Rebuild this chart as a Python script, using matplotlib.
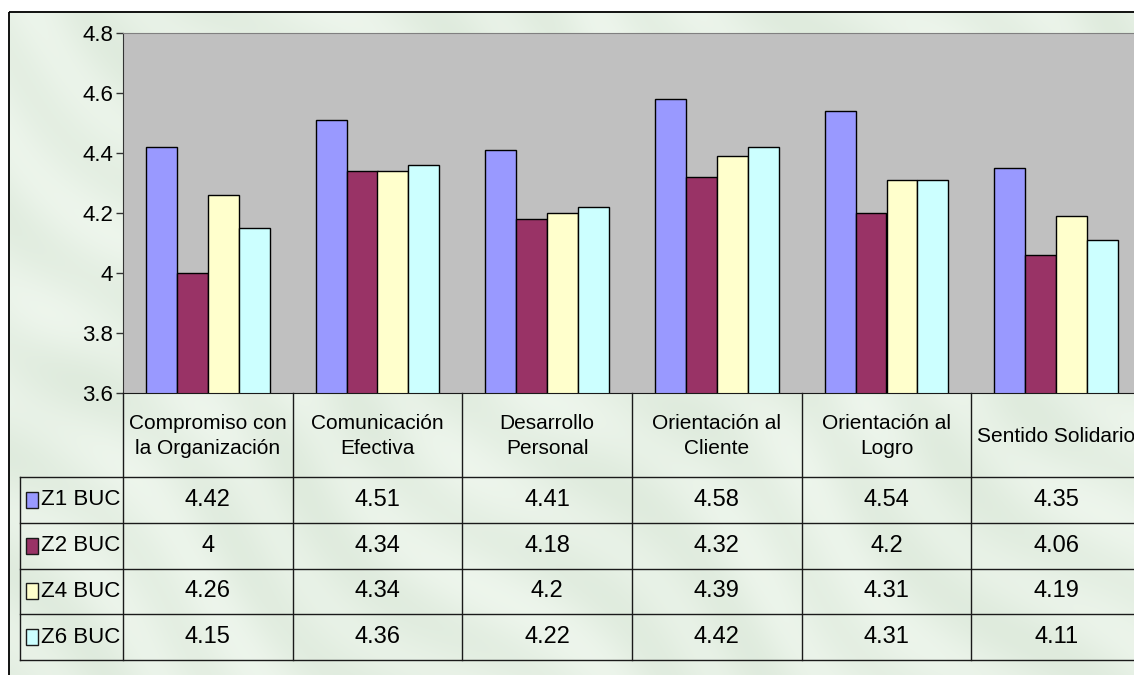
import numpy as np
import matplotlib
matplotlib.use("Agg")
import matplotlib.pyplot as plt
from matplotlib.patches import Rectangle

plt.rcParams['font.family'] = ['Liberation Sans', 'DejaVu Sans']

# Datos del gráfico
categorias = ["Compromiso con\nla Organización", "Comunicación\nEfectiva", "Desarrollo\nPersonal",
              "Orientación al\nCliente", "Orientación al\nLogro", "Sentido Solidario"]
series = ["Z1 BUC", "Z2 BUC", "Z4 BUC", "Z6 BUC"]
z1 = [4.42, 4.51, 4.41, 4.58, 4.54, 4.35]
z2 = [4, 4.34, 4.18, 4.32, 4.2, 4.06]
z4 = [4.26, 4.34, 4.2, 4.39, 4.31, 4.19]
z6 = [4.15, 4.36, 4.22, 4.42, 4.31, 4.11]
valores = [z1, z2, z4, z6]
colores = ["#9999FF", "#993366", "#FFFFCC", "#CCFFFF"]
y_ticks = [3.6, 3.8, 4.0, 4.2, 4.4, 4.6, 4.8]

W, H = 1134, 675
linea = "#1a1a1a"

fig = plt.figure(figsize=(W / 100, H / 100), dpi=100)
fig.patch.set_facecolor("white")

# area del grafico (en pixeles), con un fondo tipo marmol suave
bg = fig.add_axes([0, 0, 1, 1])
bg.axis("off")
gx, gy = np.meshgrid(np.arange(0, W + 200, 4), np.arange(0, H + 200, 4))
vetas = (np.sin((gx - gy) * 0.045 + 1.7 * np.sin(gx * 0.011 + gy * 0.007))
         + 0.6 * np.sin((gx + 0.4 * gy) * 0.019 + 2.0 * np.cos(gy * 0.013)))
vetas = (vetas - vetas.min()) / (vetas.max() - vetas.min())
c1 = np.array([0.875, 0.922, 0.868])
c2 = np.array([0.930, 0.962, 0.925])
img = c1 + (c2 - c1) * vetas[..., None]
bg.imshow(img, extent=(8.5, W + 200, H + 200, 11.5), interpolation="bilinear", zorder=0)
bg.add_patch(Rectangle((8.5, 11.5), 1300, 800, facecolor="none", edgecolor="black", lw=1.3, zorder=1))
bg.set_xlim(0, W)
bg.set_ylim(H, 0)

# barras
x_izq, x_der, y_sup, y_inf = 123, 1141, 33, 393
ax = fig.add_axes([x_izq / W, (H - y_inf) / H, (x_der - x_izq) / W, (y_inf - y_sup) / H])
ax.set_facecolor("#C0C0C0")
x = np.arange(len(categorias))
ancho = 1 / 5.5
for i, vals in enumerate(valores):
    ax.bar(x + (i - 1.5) * ancho, vals, ancho, color=colores[i], edgecolor="black", lw=1, zorder=2)
ax.set_xlim(-0.5, len(categorias) - 0.5)
ax.set_ylim(3.6, 4.8)
ax.set_yticks(y_ticks)
ax.set_yticklabels([f"{v:g}" for v in y_ticks])
ax.set_xticks([])
ax.tick_params(axis="y", direction="out", length=5, width=1, pad=2, labelsize=16, color="#333333")
ax.spines["right"].set_visible(False)
ax.spines["top"].set_color("#808080")
ax.spines["left"].set_color("#333333")
ax.spines["bottom"].set_color(linea)

# tabla de datos
col = (x_der - x_izq) / len(categorias)
t_izq, t_inf = 20, 660
tab = fig.add_axes([t_izq / W, (H - t_inf) / H, (x_der - t_izq) / W, (t_inf - y_inf) / H])
tab.set_xlim(-0.5 - (x_izq - t_izq) / col, len(categorias) - 0.5)
tab.set_ylim(t_inf - y_inf, 0)
tab.axis("off")


def px(xp):
    return -0.5 + (xp - x_izq) / col


alto_cab = 84
alto_fila = (t_inf - y_inf - alto_cab) / len(series)
filas = [alto_cab + k * alto_fila for k in range(len(series) + 1)]
fin = len(categorias) - 0.5

for yy in filas:
    tab.plot([px(t_izq), fin], [yy, yy], color=linea, lw=1, clip_on=False)
tab.plot([px(t_izq), px(t_izq)], [filas[0], filas[-1]], color=linea, lw=1, clip_on=False)
for k in range(len(categorias) + 1):
    tab.plot([k - 0.5, k - 0.5], [0, filas[-1]], color=linea, lw=1, clip_on=False)

for i, cat in enumerate(categorias):
    tab.text(i, alto_cab / 2 + 1, cat, ha="center", va="center", fontsize=15, linespacing=1.45, clip_on=False)

for j, nombre in enumerate(series):
    yc = (filas[j] + filas[j + 1]) / 2
    tab.add_patch(Rectangle((px(26), yc - 8), px(38) - px(26), 16, facecolor=colores[j],
                            edgecolor=linea, lw=1, clip_on=False))
    tab.text(px(41), yc, nombre, ha="left", va="center", fontsize=16, clip_on=False)
    for i, v in enumerate(valores[j]):
        tab.text(i, yc, f"{v:g}", ha="center", va="center", fontsize=17, clip_on=False)

fig.savefig("out.png", dpi=100)
